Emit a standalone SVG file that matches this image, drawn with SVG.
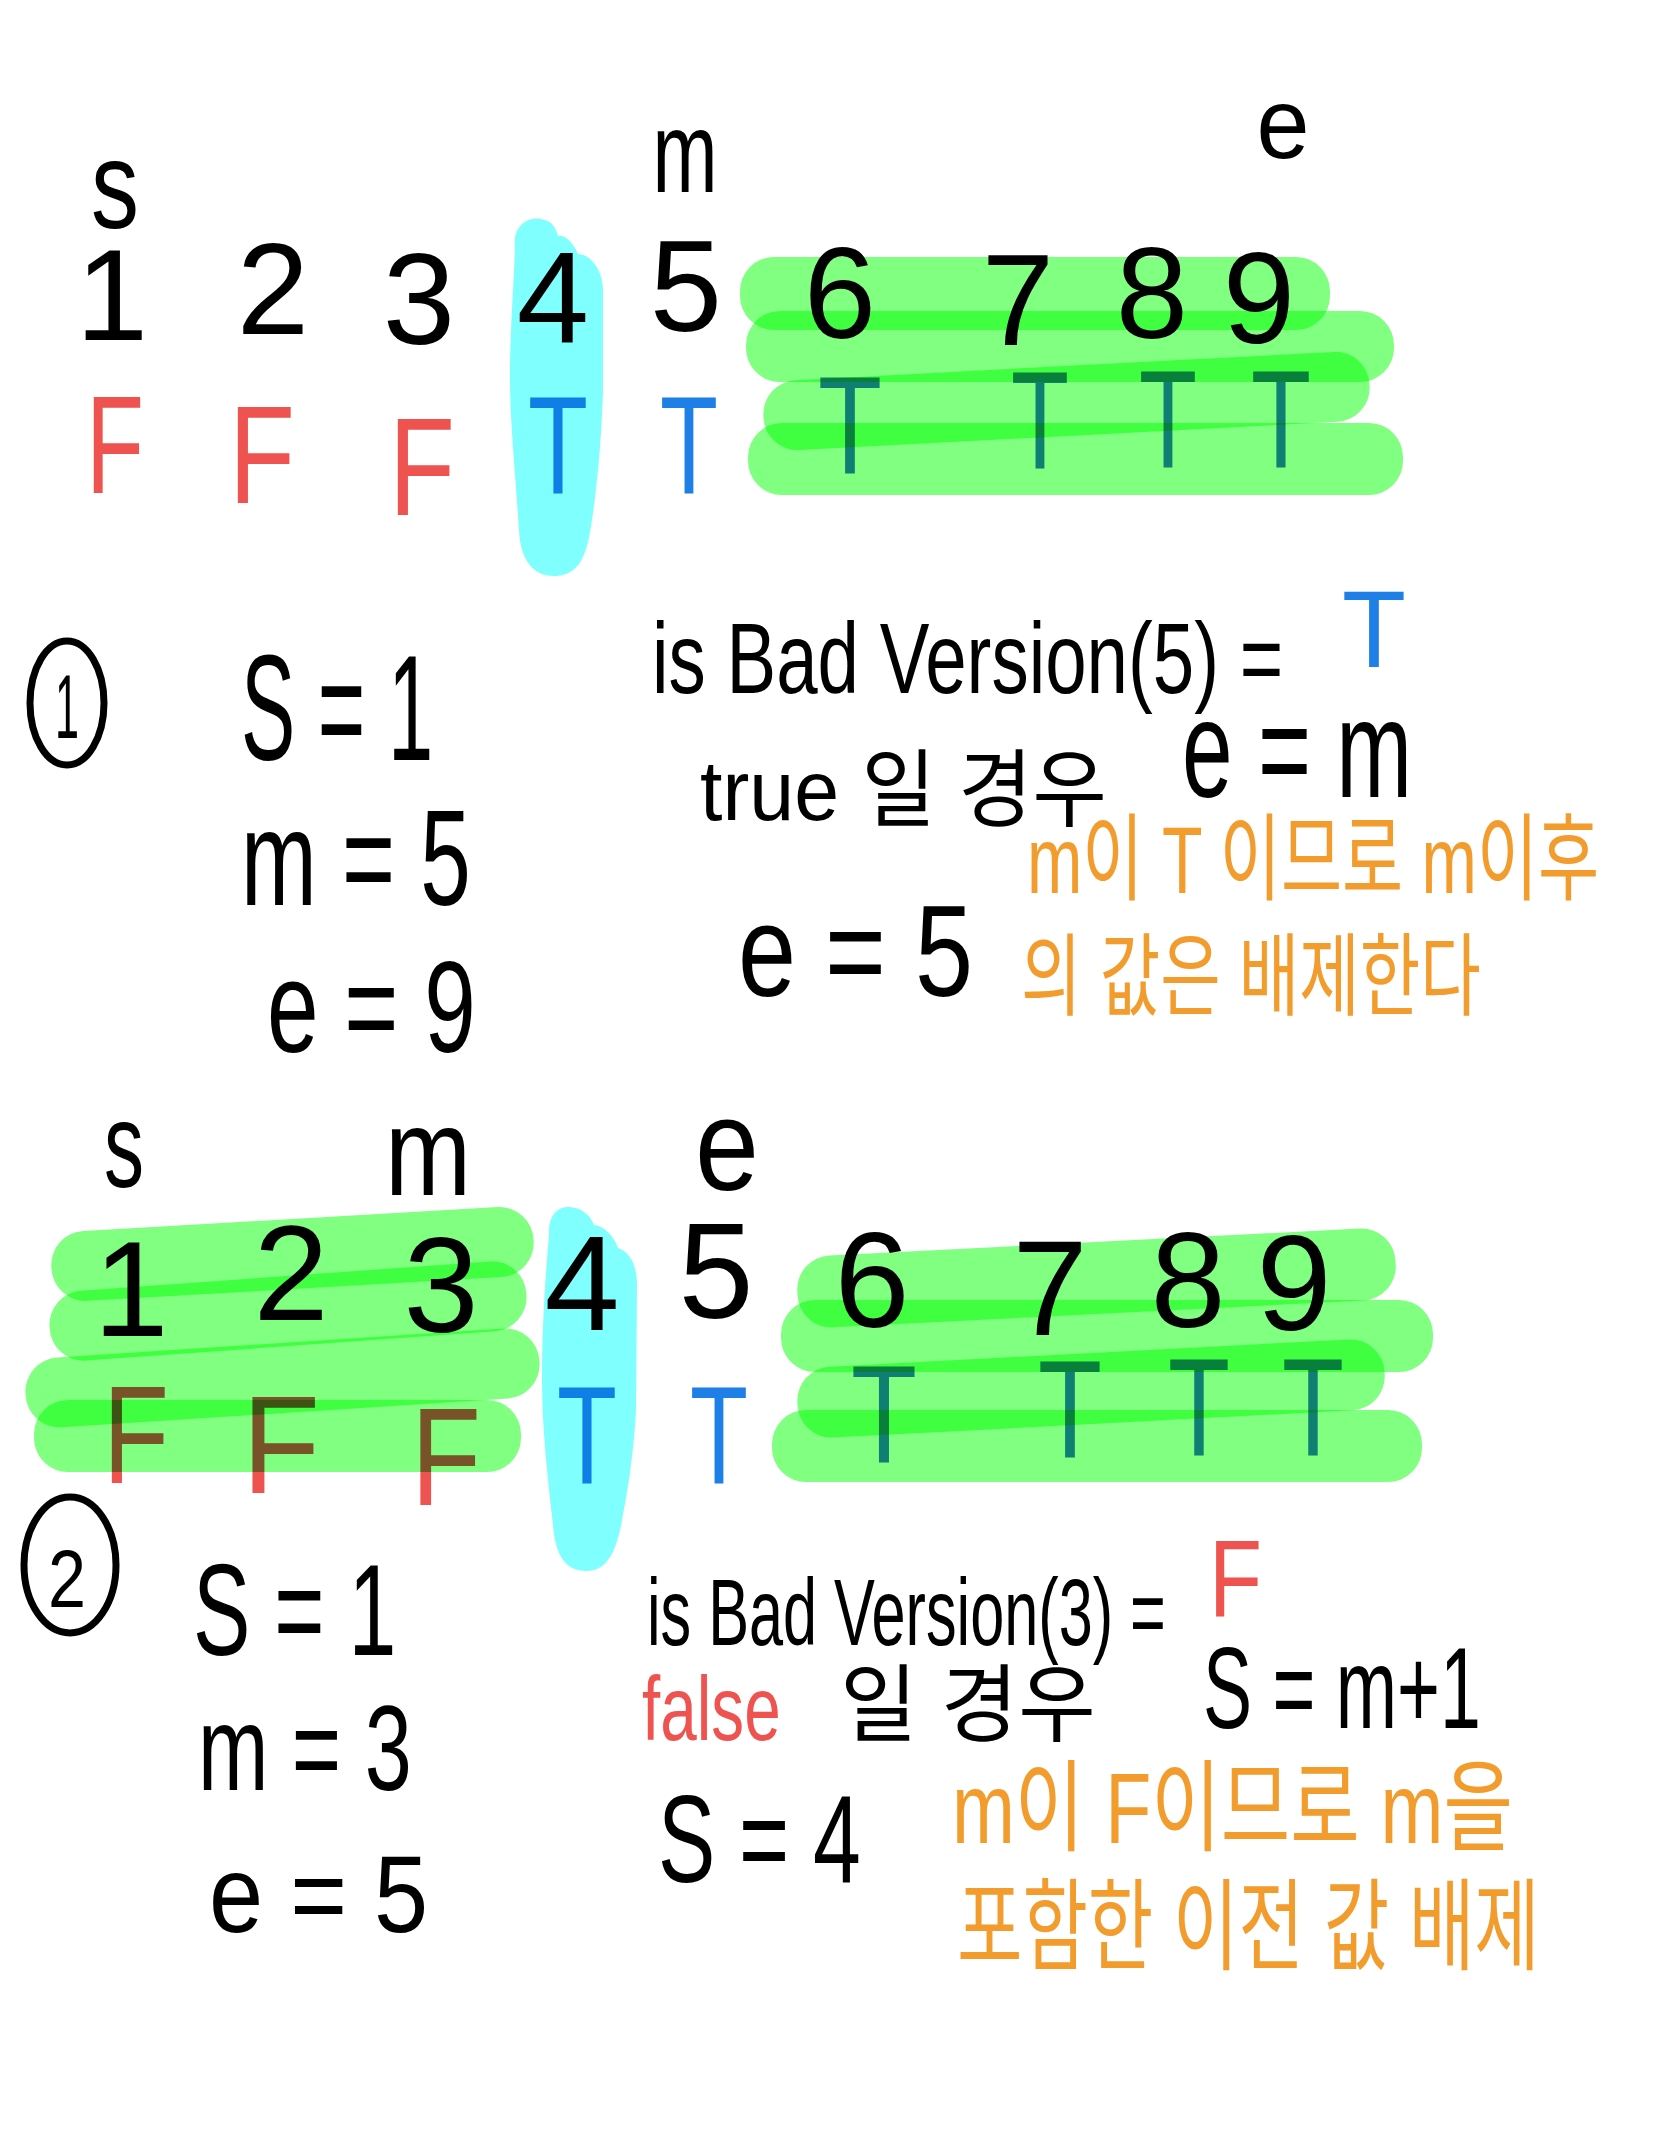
<svg xmlns="http://www.w3.org/2000/svg" width="1668" height="2154" viewBox="0 0 1668 2154">
<style>
text{font-family:"Liberation Sans","Noto Sans CJK KR",sans-serif;}
.k{fill:#000;}
.r{fill:#ef5350;}
.b{fill:#1e7fe6;}
.o{fill:#f39c2e;}
.m{text-anchor:middle;}
.hg{fill:#80ff80;mix-blend-mode:multiply;}
.hc{fill:#80ffff;mix-blend-mode:multiply;}
.ring{fill:none;stroke:#000;stroke-width:7;}
</style>
<rect width="1668" height="2154" fill="#fff"/>

<g id="step1-array">
  <g id="step1-pointers" class="k m">
    <text x="115" y="228" font-size="125" textLength="48" lengthAdjust="spacingAndGlyphs">s</text>
    <text x="685" y="192" font-size="115" textLength="65" lengthAdjust="spacingAndGlyphs">m</text>
    <text x="1283" y="158" font-size="100" textLength="53" lengthAdjust="spacingAndGlyphs">e</text>
  </g>
  <g id="step1-digits" class="k m" font-size="130">
    <text x="112" y="340">1</text>
    <text x="273" y="334">2</text>
    <text x="419" y="344">3</text>
    <text x="553" y="342">4</text>
    <text x="686" y="331">5</text>
    <text x="840" y="338">6</text>
    <text x="1018" y="345">7</text>
    <text x="1152" y="338">8</text>
    <text x="1259" y="343">9</text>
  </g>
  <g id="step1-flags" class="m" font-size="140">
    <text class="r" x="115" y="493" textLength="58" lengthAdjust="spacingAndGlyphs">F</text>
    <text class="r" x="262" y="503" textLength="66" lengthAdjust="spacingAndGlyphs">F</text>
    <text class="r" x="422" y="515" textLength="66" lengthAdjust="spacingAndGlyphs">F</text>
    <text class="b" x="558" y="493" textLength="60" lengthAdjust="spacingAndGlyphs">T</text>
    <text class="b" x="689" y="493" textLength="58" lengthAdjust="spacingAndGlyphs">T</text>
    <text class="b" x="850" y="473" textLength="64" lengthAdjust="spacingAndGlyphs">T</text>
    <text class="b" x="1040" y="468" textLength="58" lengthAdjust="spacingAndGlyphs">T</text>
    <text class="b" x="1168" y="467" textLength="58" lengthAdjust="spacingAndGlyphs">T</text>
    <text class="b" x="1281" y="467" textLength="60" lengthAdjust="spacingAndGlyphs">T</text>
  </g>
</g>

<g id="step1-notes">
  <g id="step1-label">
    <ellipse class="ring" cx="67" cy="703" rx="37" ry="62"/>
    <text class="k m" x="67" y="738" font-size="90" textLength="24" lengthAdjust="spacingAndGlyphs">1</text>
  </g>
  <g id="step1-vars" class="k">
    <text transform="translate(241,760) scale(0.54,1)" font-size="150" textLength="356" lengthAdjust="spacingAndGlyphs">S = 1</text>
    <text transform="translate(241,905) scale(0.67,1)" font-size="135" textLength="343" lengthAdjust="spacingAndGlyphs">m = 5</text>
    <text transform="translate(267,1052) scale(0.71,1)" font-size="130" textLength="294" lengthAdjust="spacingAndGlyphs">e = 9</text>
  </g>
  <g id="step1-rule">
    <text class="k" transform="translate(652,693) scale(0.79,1)" font-size="100" textLength="799" lengthAdjust="spacingAndGlyphs">is Bad Version(5) =</text>
    <text class="b" x="1342" y="667" font-size="110" textLength="64" lengthAdjust="spacingAndGlyphs">T</text>
    <text class="k" transform="translate(700,820) scale(0.91,1)" font-size="85" textLength="447" lengthAdjust="spacingAndGlyphs">true 일 경우</text>
    <text class="k" transform="translate(1182,797) scale(0.65,1)" font-size="140" textLength="354" lengthAdjust="spacingAndGlyphs">e = m</text>
    <text class="k" transform="translate(738,996) scale(0.8,1)" font-size="130" textLength="294" lengthAdjust="spacingAndGlyphs">e = 5</text>
  </g>
  <g id="step1-comment" class="o">
    <text transform="translate(1027,893) scale(0.66,1)" font-size="95" textLength="867" lengthAdjust="spacingAndGlyphs">m이 T 이므로 m이후</text>
    <text transform="translate(1021,1008) scale(0.68,1)" font-size="90" textLength="676" lengthAdjust="spacingAndGlyphs">의 값은 배제한다</text>
  </g>
</g>

<g id="step2-array">
  <g id="step2-pointers" class="k m">
    <text x="124" y="1187" font-size="120" textLength="40" lengthAdjust="spacingAndGlyphs">s</text>
    <text x="428" y="1195" font-size="125" textLength="86" lengthAdjust="spacingAndGlyphs">m</text>
    <text x="727" y="1190" font-size="130" textLength="64" lengthAdjust="spacingAndGlyphs">e</text>
  </g>
  <g id="step2-digits" class="k m" font-size="135">
    <text x="131" y="1336">1</text>
    <text x="291" y="1320">2</text>
    <text x="441" y="1332">3</text>
    <text x="582" y="1330">4</text>
    <text x="716" y="1318">5</text>
    <text x="872" y="1327">6</text>
    <text x="1050" y="1335">7</text>
    <text x="1188" y="1327">8</text>
    <text x="1294" y="1330">9</text>
  </g>
  <g id="step2-flags" class="m" font-size="140">
    <text class="r" x="136" y="1483" textLength="66" lengthAdjust="spacingAndGlyphs">F</text>
    <text class="r" x="281" y="1493" textLength="78" lengthAdjust="spacingAndGlyphs">F</text>
    <text class="r" x="446" y="1505" textLength="70" lengthAdjust="spacingAndGlyphs">F</text>
    <text class="b" x="587" y="1483" textLength="60" lengthAdjust="spacingAndGlyphs">T</text>
    <text class="b" x="719" y="1483" textLength="58" lengthAdjust="spacingAndGlyphs">T</text>
    <text class="b" x="884" y="1462" textLength="66" lengthAdjust="spacingAndGlyphs">T</text>
    <text class="b" x="1070" y="1457" textLength="64" lengthAdjust="spacingAndGlyphs">T</text>
    <text class="b" x="1199" y="1455" textLength="62" lengthAdjust="spacingAndGlyphs">T</text>
    <text class="b" x="1313" y="1455" textLength="62" lengthAdjust="spacingAndGlyphs">T</text>
  </g>
</g>

<g id="step2-notes">
  <g id="step2-label">
    <ellipse class="ring" cx="70" cy="1565" rx="46" ry="68"/>
    <text class="k m" x="67" y="1607" font-size="82" textLength="38" lengthAdjust="spacingAndGlyphs">2</text>
  </g>
  <g id="step2-vars" class="k">
    <text transform="translate(193,1655) scale(0.66,1)" font-size="130" textLength="308" lengthAdjust="spacingAndGlyphs">S = 1</text>
    <text transform="translate(198,1790) scale(0.71,1)" font-size="120" textLength="301" lengthAdjust="spacingAndGlyphs">m = 3</text>
    <text transform="translate(209,1932) scale(0.88,1)" font-size="110" textLength="249" lengthAdjust="spacingAndGlyphs">e = 5</text>
  </g>
  <g id="step2-rule">
    <text class="k" transform="translate(647,1645) scale(0.68,1)" font-size="95" textLength="763" lengthAdjust="spacingAndGlyphs">is Bad Version(3) =</text>
    <text class="r" x="1209" y="1617" font-size="110" textLength="53" lengthAdjust="spacingAndGlyphs">F</text>
    <text class="r" transform="translate(642,1740) scale(0.73,1)" font-size="90" textLength="190" lengthAdjust="spacingAndGlyphs">false</text>
    <text class="k" transform="translate(840,1735) scale(0.92,1)" font-size="85" textLength="278" lengthAdjust="spacingAndGlyphs">일 경우</text>
    <text class="k" transform="translate(1203,1728) scale(0.64,1)" font-size="115" textLength="434" lengthAdjust="spacingAndGlyphs">S = m+1</text>
    <text class="k" transform="translate(658,1882) scale(0.69,1)" font-size="125" textLength="294" lengthAdjust="spacingAndGlyphs">S = 4</text>
  </g>
  <g id="step2-comment" class="o">
    <text transform="translate(952,1843) scale(0.72,1)" font-size="100" textLength="779" lengthAdjust="spacingAndGlyphs">m이 F이므로 m을</text>
    <text transform="translate(957,1962) scale(0.66,1)" font-size="100" textLength="883" lengthAdjust="spacingAndGlyphs">포함한 이전 값 배제</text>
  </g>
</g>

<g id="highlights">
  <path class="hc" d="M515,247 C512,225 530,214 545,220 C552,222 556,228 558,236 C565,234 574,244 578,254 C590,254 603,270 603,290 L603,390 C602,430 598,480 592,520 C588,545 584,575 556,576 C530,577 520,555 519,530 C515,470 510,420 510,380 C510,330 514,280 515,247 Z"/>
  <rect class="hg" x="740" y="257" width="590" height="73" rx="34"/>
  <rect class="hg" x="746" y="311" width="648" height="71" rx="34"/>
  <rect class="hg" x="763" y="366" width="607" height="70" rx="34" transform="rotate(-3 1066 401)"/>
  <rect class="hg" x="748" y="423" width="655" height="72" rx="34"/>

  <path class="hc" d="M549,1235 C548,1215 558,1206 570,1207 C582,1208 590,1215 594,1225 C604,1226 614,1236 618,1248 C630,1252 637,1265 637,1285 L636,1410 C634,1450 628,1490 622,1520 C616,1555 605,1572 585,1571 C562,1570 555,1550 553,1525 C548,1480 542,1430 542,1380 C542,1320 546,1270 549,1235 Z"/>
  <rect class="hg" x="51" y="1219" width="483" height="70" rx="34" transform="rotate(-3.3 292 1254)"/>
  <rect class="hg" x="49" y="1276" width="478" height="70" rx="34" transform="rotate(-4.1 288 1311)"/>
  <rect class="hg" x="25" y="1343" width="515" height="70" rx="34" transform="rotate(-3.7 282 1378)"/>
  <rect class="hg" x="34" y="1400" width="487" height="72" rx="34"/>

  <rect class="hg" x="797" y="1242" width="599" height="72" rx="34" transform="rotate(-2.9 1096 1278)"/>
  <rect class="hg" x="781" y="1300" width="652" height="72" rx="34"/>
  <rect class="hg" x="797" y="1353" width="588" height="71" rx="34" transform="rotate(-3 1091 1388)"/>
  <rect class="hg" x="772" y="1410" width="650" height="72" rx="34"/>
</g>
</svg>
